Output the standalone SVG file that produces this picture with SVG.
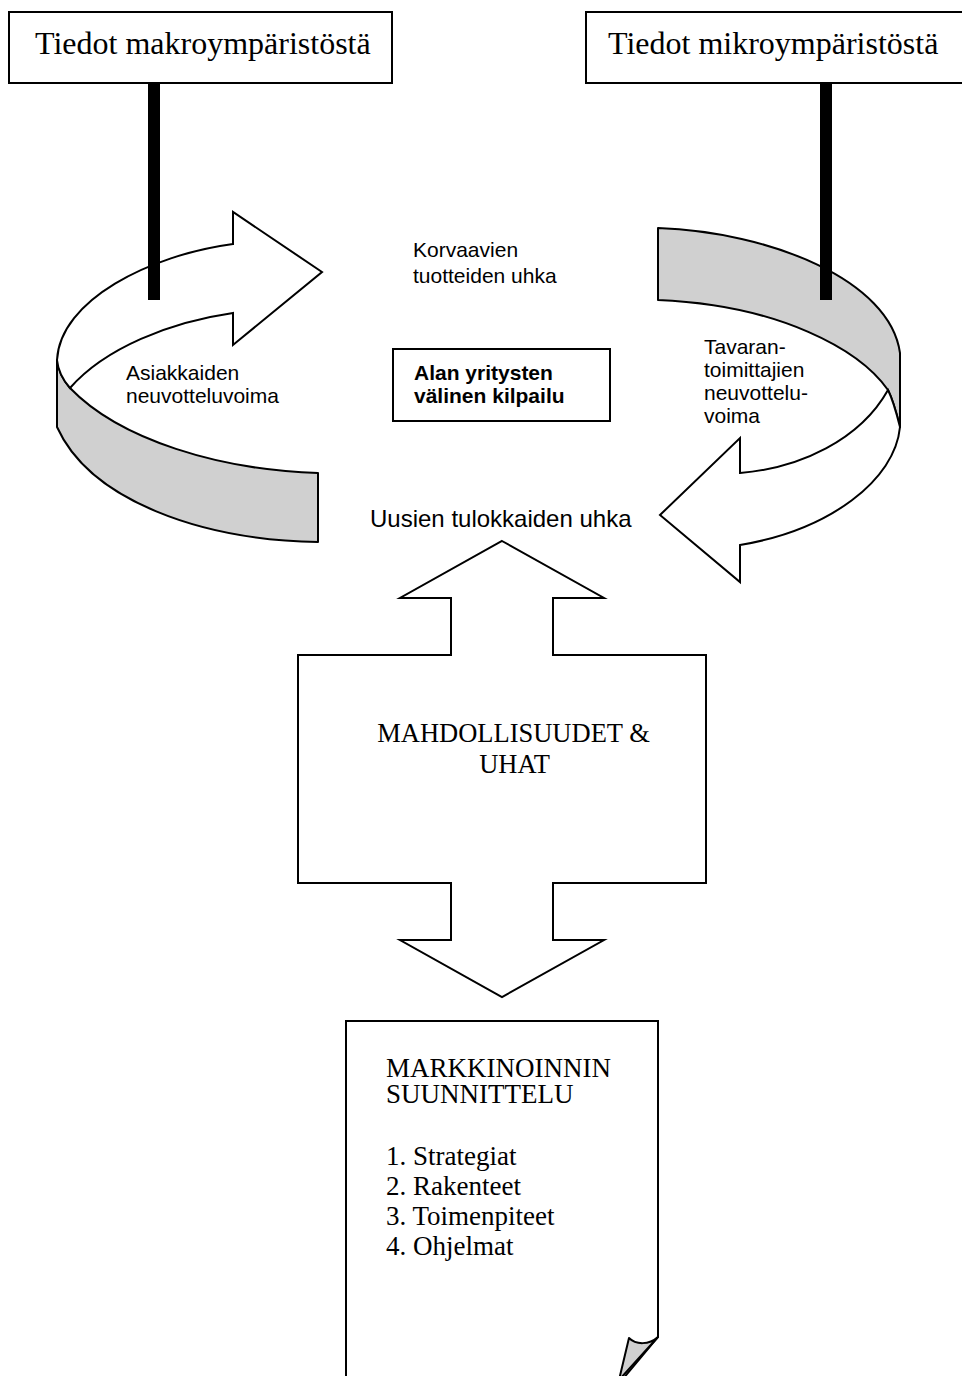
<svg xmlns="http://www.w3.org/2000/svg" width="962" height="1376" viewBox="0 0 962 1376">
<style>
.box{fill:#fff;stroke:#000;stroke-width:2}
.shape{fill:#fff;stroke:#000;stroke-width:2;stroke-linejoin:miter}
.gray{fill:#d0d0d0;stroke:#000;stroke-width:2;stroke-linejoin:round}
.serif{font-family:"Liberation Serif","Times New Roman",serif;fill:#000}
.sans{font-family:"Liberation Sans",Arial,sans-serif;fill:#000}
.bar{fill:#000}
</style>
<rect width="962" height="1376" fill="#fff"/>
<g id="makro">
<rect class="box" x="9" y="12" width="383" height="71"/>
<text class="serif" x="35" y="54" font-size="32">Tiedot makroympäristöstä</text>
</g>
<g id="mikro">
<rect class="box" x="586" y="12" width="390" height="71"/>
<text class="serif" x="608" y="54" font-size="32">Tiedot mikroympäristöstä</text>
</g>
<g id="asiakkaat">
<path class="gray" d="M57,360 C58,370 63,380 70,388 C120,440 220,470 318,473 L318,542 C200,540 90,500 57,427 Z"/>
<path class="shape" d="M233,244 L233,212 L322,272 L233,345 L233,313 C170,322 105,348 70,388 C63,380 58,370 57,360 C60,300 150,255 233,244 Z"/>
<text class="sans" font-size="21"><tspan x="126" y="380">Asiakkaiden</tspan><tspan x="126" y="403">neuvotteluvoima</tspan></text>
</g>
<g id="tavarantoimittajat">
<path class="gray" d="M658,228 C770,232 890,280 900,353 L900,427 C897,415 893,400 888,390 C860,350 780,305 658,300 Z"/>
<path class="shape" d="M888,390 C893,400 897,415 900,427 C895,480 830,530 740,545 L740,582 L660,515 L740,438 L740,473 C800,468 860,440 888,390 Z"/>
<text class="sans" font-size="21"><tspan x="704" y="354">Tavaran-</tspan><tspan x="704" y="377">toimittajien</tspan><tspan x="704" y="400">neuvottelu-</tspan><tspan x="704" y="423">voima</tspan></text>
</g>
<g id="korvaavat">
<text class="sans" font-size="21"><tspan x="413" y="257">Korvaavien</tspan><tspan x="413" y="283">tuotteiden uhka</tspan></text>
</g>
<g id="kilpailu">
<rect class="box" x="393" y="349" width="217" height="72"/>
<text class="sans" font-size="21" font-weight="bold"><tspan x="414" y="380">Alan yritysten</tspan><tspan x="414" y="403">välinen kilpailu</tspan></text>
</g>
<g id="tulokkaat">
<text class="sans" x="370" y="527" font-size="24">Uusien tulokkaiden uhka</text>
</g>
<g id="mahdollisuudet">
<path class="shape" d="M502,541 L604,598 L553,598 L553,655 L706,655 L706,883 L553,883 L553,940 L604,940 L502,997 L400,940 L451,940 L451,883 L298,883 L298,655 L451,655 L451,598 L400,598 Z"/>
<text class="serif" font-size="26.5" text-anchor="middle"><tspan x="513.5" y="742">MAHDOLLISUUDET &amp;</tspan><tspan x="514.5" y="773">UHAT</tspan></text>
</g>
<g id="suunnittelu">
<path class="shape" d="M346,1380 L346,1021 L658,1021 L658,1337 L622,1380"/>
<path class="gray" d="M629,1338 C636,1345 649,1345 658,1337 L619,1380 Z"/>
<text class="serif" font-size="27"><tspan x="386" y="1077">MARKKINOINNIN</tspan><tspan x="386" y="1103">SUUNNITTELU</tspan><tspan x="386" y="1165">1. Strategiat</tspan><tspan x="386" y="1195">2. Rakenteet</tspan><tspan x="386" y="1225">3. Toimenpiteet</tspan><tspan x="386" y="1255">4. Ohjelmat</tspan></text>
</g>
<g id="connectors">
<rect class="bar" x="148" y="83" width="12" height="217"/>
<rect class="bar" x="820" y="83" width="12" height="217"/>
</g>
</svg>
